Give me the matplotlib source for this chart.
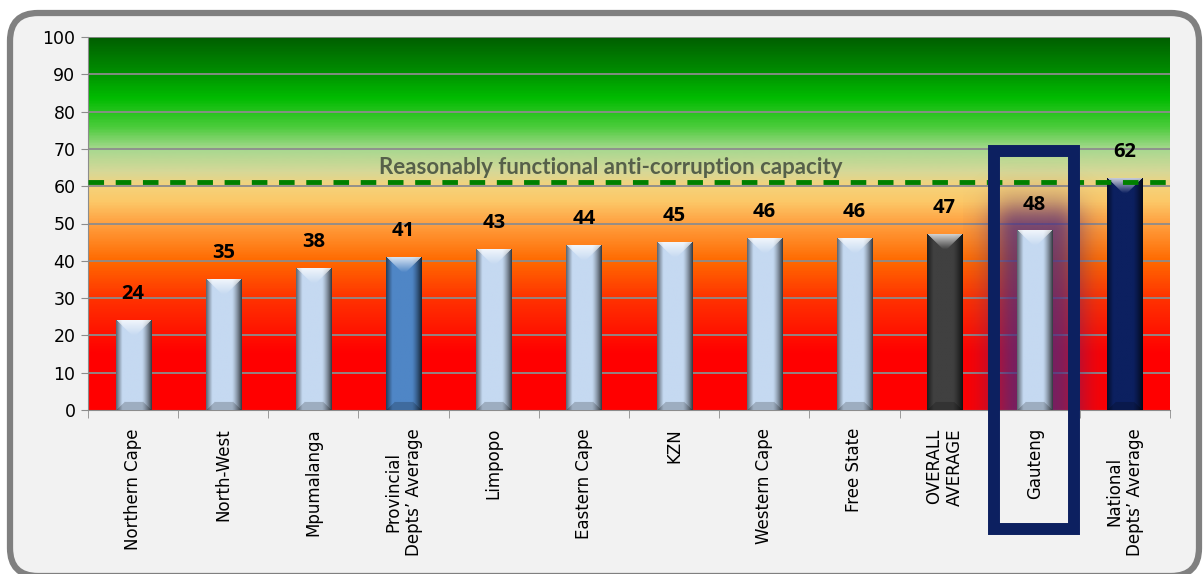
import numpy as np
import matplotlib.pyplot as plt
from matplotlib.colors import LinearSegmentedColormap, to_rgb
from matplotlib.patches import FancyBboxPatch, Rectangle
from matplotlib.transforms import IdentityTransform

categories = ['Northern Cape', 'North-West', 'Mpumalanga', 'Provincial\nDepts\u2019 Average',
              'Limpopo', 'Eastern Cape', 'KZN', 'Western Cape', 'Free State',
              'OVERALL\nAVERAGE', 'Gauteng', 'National\nDepts\u2019 Average']
values = [24, 35, 38, 41, 43, 44, 45, 46, 46, 47, 48, 62]
bar_colors = ['#c5d9f1', '#c5d9f1', '#c5d9f1', '#4f86c6', '#c5d9f1', '#c5d9f1',
              '#c5d9f1', '#c5d9f1', '#c5d9f1', '#404040', '#c5d9f1', '#0c2060']
threshold = 61
threshold_label = 'Reasonably functional anti-corruption capacity'
highlight = 'Gauteng'

W, H = 1203, 574
fig = plt.figure(figsize=(W / 100, H / 100), dpi=100)
fig.patch.set_facecolor('white')

# rounded grey frame around the whole chart
frame = FancyBboxPatch((10, -2), 1189, 563, boxstyle='round,pad=0,rounding_size=28',
                       transform=IdentityTransform(), facecolor='#f2f2f2',
                       edgecolor='#808080', linewidth=4.5, zorder=-5)
fig.patches.append(frame)

ax_l, ax_r, ax_t, ax_b = 88, 1170, 37, 410
ax = fig.add_axes([ax_l / W, 1 - ax_b / H, (ax_r - ax_l) / W, (ax_b - ax_t) / H])
ax.set_facecolor('none')
n = len(categories)
ax.set_xlim(-0.5, n - 0.5)
ax.set_ylim(0, 100)

# background traffic light gradient
stops = [(0.00, '#ff0000'), (0.15, '#ff0000'), (0.30, '#ff3300'), (0.40, '#ff6a00'),
         (0.50, '#ffa040'), (0.56, '#fcc868'), (0.60, '#f5d27a'), (0.64, '#d6d898'),
         (0.70, '#a8d890'), (0.76, '#4ccc3c'), (0.84, '#00bb00'), (0.92, '#008800'),
         (1.00, '#006000')]
cmap = LinearSegmentedColormap.from_list('bg', stops)
grad = np.linspace(0, 1, 400).reshape(-1, 1)
ax.imshow(grad, cmap=cmap, aspect='auto', extent=[-0.5, n - 0.5, 0, 100],
          origin='lower', zorder=0)

for yv in range(10, 101, 10):
    ax.axhline(yv, color='#8c8c8c', lw=1.3, zorder=1)

# soft purple glow behind the highlighted bar
px_per_x = (ax_r - ax_l) / n
px_per_y = (ax_b - ax_t) / 100
bw = 0.39
hi = categories.index(highlight)
gx = np.linspace(hi - 0.8, hi + 0.8, 160)
gy = np.linspace(0, values[hi] + 22, 260)
GX, GY = np.meshgrid(gx, gy)
dx = np.maximum(np.abs(GX - hi) - bw / 2, 0) * px_per_x
dy = np.maximum(GY - values[hi], 0) * px_per_y
d = np.hypot(dx, dy)
glow = np.zeros(GX.shape + (4,))
glow[..., :3] = to_rgb('#4a2a80')
glow[..., 3] = 0.75 * np.exp(-(d / 30) ** 2)
ax.imshow(glow, aspect='auto', extent=[gx[0], gx[-1], 0, gy[-1]], origin='lower', zorder=2)


def bevel_bar(x, h, color):
    nx = int(bw * px_per_x)
    ny = max(int(h * px_per_y), 2)
    base = np.array(to_rgb(color))
    jj, ii = np.meshgrid(np.arange(nx), np.arange(ny))
    u = (jj + 0.5) / nx
    shade = np.clip(1.0 - 0.55 * np.clip((0.18 - u) / 0.18, 0, 1)
                    - 0.75 * np.clip((u - 0.72) / 0.28, 0, 1) ** 1.3, 0, 1)
    img = base[None, None, :] * shade[..., None]
    d_top = ii
    d_bot = ny - 1 - ii
    d_side = np.minimum(jj, nx - 1 - jj)
    top = (d_top < d_side) & (d_top < nx * 0.42)
    light = 0.75 * (1 - d_top / (nx * 0.42))
    img = np.where(top[..., None], img + (1 - img) * light[..., None], img)
    bot = (d_bot < d_side) & (d_bot < 8)
    img = np.where(bot[..., None], img * 0.8, img)
    img = np.clip(img, 0, 1)
    ax.imshow(img, aspect='auto', extent=[x - bw / 2, x + bw / 2, 0, h],
              origin='upper', zorder=3, interpolation='bilinear')


xs = np.arange(n)
for x, v, c in zip(xs, values, bar_colors):
    bevel_bar(x, v, c)
    ax.annotate(str(v), (x, v), xytext=(0, 19), textcoords='offset points',
                ha='center', va='center', fontsize=14.5, fontweight='bold',
                family='Open Sans', color='black', zorder=6)

ax.axhline(threshold, color='#008000', lw=3.5, ls=(0, (3.2, 2.4)), zorder=4)
ax.text(5.3, threshold + 4.0, threshold_label, ha='center', va='center',
        fontsize=16, fontweight='bold', family='Lato', color='#56604a', zorder=5)

ax.set_yticks(range(0, 101, 10))
ax.set_xticks(xs)
ax.set_xticklabels(categories, rotation=90, va='top', ha='center',
                   multialignment='center', fontsize=12, family='DejaVu Sans')
ax.tick_params(axis='x', length=0, pad=13)
ax.set_xticks(np.arange(-0.5, n, 1), minor=True)
ax.tick_params(axis='x', which='minor', length=6, color='#8c8c8c', direction='out')
ax.tick_params(axis='y', length=5, color='#8c8c8c', labelsize=12.5, pad=4)
for s in ['top', 'right']:
    ax.spines[s].set_visible(False)
for s in ['left', 'bottom']:
    ax.spines[s].set_color('#8c8c8c')

# navy box around the highlighted category
box = Rectangle((994, H - 529), 80, 378, transform=IdentityTransform(),
                fill=False, edgecolor='#0c2060', linewidth=8.6, zorder=10)
fig.patches.append(box)

fig.savefig('out.png', dpi=100)
